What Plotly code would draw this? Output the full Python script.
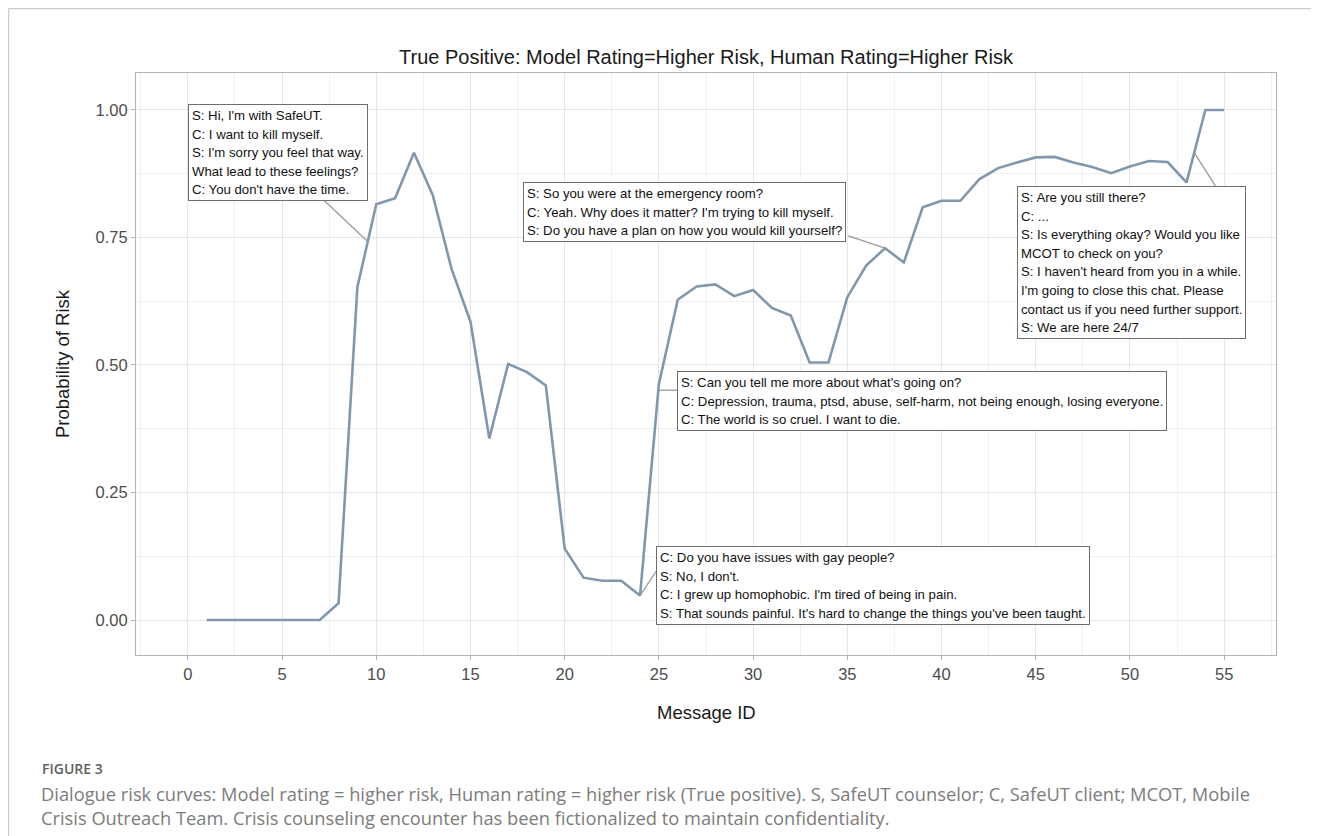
import numpy as np
import plotly.graph_objects as go

# ---------------- data ----------------
message_id = list(range(1, 56))
risk = [0.0, 0.0, 0.0, 0.0, 0.0, 0.0, 0.0, 0.033, 0.653, 0.815,
        0.827, 0.916, 0.833, 0.688, 0.585, 0.356, 0.502, 0.486, 0.460, 0.140,
        0.083, 0.077, 0.077, 0.048, 0.463, 0.628, 0.654, 0.658, 0.635, 0.647,
        0.612, 0.597, 0.505, 0.505, 0.633, 0.695, 0.729, 0.701, 0.809, 0.822,
        0.822, 0.864, 0.886, 0.897, 0.907, 0.908, 0.897, 0.888, 0.876, 0.889,
        0.900, 0.898, 0.858, 1.0, 1.0]

x_ticks = [0, 5, 10, 15, 20, 25, 30, 35, 40, 45, 50, 55]
y_ticks = [0.0, 0.25, 0.5, 0.75, 1.0]
y_tick_labels = ["0.00", "0.25", "0.50", "0.75", "1.00"]

label_texts = [
    ["S: Hi, I'm with SafeUT.", "C: I want to kill myself.", "S: I'm sorry you feel that way.",
     "What lead to these feelings?", "C: You don't have the time."],
    ["S: So you were at the emergency room?", "C: Yeah. Why does it matter? I'm trying to kill myself.",
     "S: Do you have a plan on how you would kill yourself?"],
    ["S: Can you tell me more about what's going on?",
     "C: Depression, trauma, ptsd, abuse, self-harm, not being enough, losing everyone.",
     "C: The world is so cruel. I want to die."],
    ["C: Do you have issues with gay people?", "S: No, I don't.",
     "C: I grew up homophobic. I'm tired of being in pain.",
     "S: That sounds painful. It's hard to change the things you've been taught."],
    ["S: Are you still there?", "C: ...", "S: Is everything okay? Would you like",
     "MCOT to check on you?", "S: I haven't heard from you in a while.",
     "I'm going to close this chat. Please", "contact us if you need further support.",
     "S: We are here 24/7"],
]
# label box top-left corner (data coords)
label_x = [0.02, 17.8, 25.97, 24.86, 44.0]
label_y = [1.012, 0.859, 0.488, 0.145, 0.851]
# connector: point on curve (message position) and end on label
conn_curve_x = [9.55, 37.0, 24.97, 24.0, 53.41]
conn_label_x = [7.05, 35.05, 25.97, 24.97, 54.53]
conn_label_y = [0.829, 0.753, None, 0.102, 0.851]

title = "True Positive: Model Rating=Higher Risk, Human Rating=Higher Risk"
x_title = "Message ID"
y_title = "Probability of Risk"
fig_label = "FIGURE 3"
caption_lines = [
    "Dialogue risk curves: Model rating = higher risk, Human rating = higher risk (True positive). S, SafeUT counselor; C, SafeUT client; MCOT, Mobile",
    "Crisis Outreach Team. Crisis counseling encounter has been fictionalized to maintain confidentiality.",
]

# ---------------- figure ----------------
OFF = 8  # page body margin
W, H = 1319 - OFF, 836 - OFF
ML, MR, MT, MB = 136 - OFF, 43, 73 - OFF, 181
PW, PH = W - ML - MR, H - MT - MB


def px_x(px):  # screen px -> paper
    return (px - OFF - ML) / PW


def px_y(py):  # screen px -> paper
    return (H - MB - (py - OFF)) / PH


FONT = "Liberation Sans, Arial, sans-serif"
CAP_FONT = "Open Sans, sans-serif"

fig = go.Figure()
fig.add_trace(go.Scatter(x=message_id, y=risk, mode="lines",
                         line=dict(color="#8097ae", width=2.6), hoverinfo="skip",
                         showlegend=False))

shapes = []
for cx, lx, ly in zip(conn_curve_x, conn_label_x, conn_label_y):
    cy = float(np.interp(cx, message_id, risk))
    if ly is None:
        ly = cy
    shapes.append(dict(type="line", xref="x", yref="y", x0=cx, y0=cy, x1=lx, y1=ly,
                       line=dict(color="#9a9a9a", width=1.3), layer="above"))

# outer frame (left + top)
shapes.append(dict(type="line", xref="paper", yref="paper", x0=px_x(8.5), x1=px_x(1330),
                   y0=px_y(8.5), y1=px_y(8.5), line=dict(color="#cccccc", width=1.5)))
shapes.append(dict(type="line", xref="paper", yref="paper", x0=px_x(8.5), x1=px_x(8.5),
                   y0=px_y(8.5), y1=px_y(850), line=dict(color="#cccccc", width=1.5)))

annotations = []
for lines, lx, ly in zip(label_texts, label_x, label_y):
    txt = "<br>".join('<span style="font-size:13.2px">%s</span>' % l for l in lines)
    annotations.append(dict(x=lx, y=ly, xref="x", yref="y", text=txt, showarrow=False,
                            xanchor="left", yanchor="top", align="left",
                            font=dict(family=FONT, size=14.3, color="#111111"),
                            bgcolor="white", bordercolor="#6e6e6e", borderwidth=1,
                            borderpad=3))

annotations.append(dict(x=0.5, y=px_y(712), xref="paper", yref="paper", text=x_title,
                        showarrow=False, xanchor="center", yanchor="middle",
                        font=dict(family=FONT, size=18.5, color="#1a1a1a")))
annotations.append(dict(x=px_x(62), y=px_y(364), xref="paper", yref="paper", text=y_title,
                        showarrow=False, xanchor="center", yanchor="middle", textangle=-90,
                        font=dict(family=FONT, size=18.5, color="#1a1a1a")))
annotations.append(dict(x=px_x(40), y=px_y(768), xref="paper", yref="paper", text=fig_label,
                        showarrow=False, xanchor="left", yanchor="middle",
                        font=dict(family=CAP_FONT, size=14, color="#606060", weight=600)))
for i, line in enumerate(caption_lines):
    annotations.append(dict(x=px_x(39), y=px_y(793 + 25 * i), xref="paper", yref="paper",
                            text=line, showarrow=False, xanchor="left", yanchor="middle",
                            font=dict(family=CAP_FONT, size=18.3, color="#7c7c7c")))

axis_common = dict(showline=True, mirror=True, linecolor="#b3b3b3", linewidth=1,
                   ticks="outside", ticklen=4, tickcolor="#b3b3b3", tickwidth=1,
                   showgrid=True, gridcolor="#e6e6e6", gridwidth=1, zeroline=False,
                   tickfont=dict(family=FONT, size=16.5, color="#4d4d4d"))

fig.update_layout(
    width=W, height=H,
    margin=dict(l=ML, r=MR, t=MT, b=MB),
    paper_bgcolor="white", plot_bgcolor="white",
    title=dict(text=title, x=0.5, xref="paper", xanchor="center",
               y=1 - (57 - OFF) / H, yref="container", yanchor="middle",
               font=dict(family=FONT, size=20, color="#1a1a1a")),
    xaxis=dict(range=[-2.75, 57.75], tickvals=x_ticks, ticktext=[str(v) for v in x_ticks],
               minor=dict(tickvals=[v + 2.5 for v in [-5] + x_ticks], showgrid=True,
                          gridcolor="#f0f0f0", gridwidth=1, ticks=""),
               **axis_common),
    yaxis=dict(range=[-0.0686, 1.0725], tickvals=y_ticks, ticktext=y_tick_labels,
               minor=dict(tickvals=[v + 0.125 for v in [-0.25] + y_ticks], showgrid=True,
                          gridcolor="#f0f0f0", gridwidth=1, ticks=""),
               **axis_common),
    shapes=shapes,
    annotations=annotations,
    showlegend=False,
)

fig.write_html("out.html")
